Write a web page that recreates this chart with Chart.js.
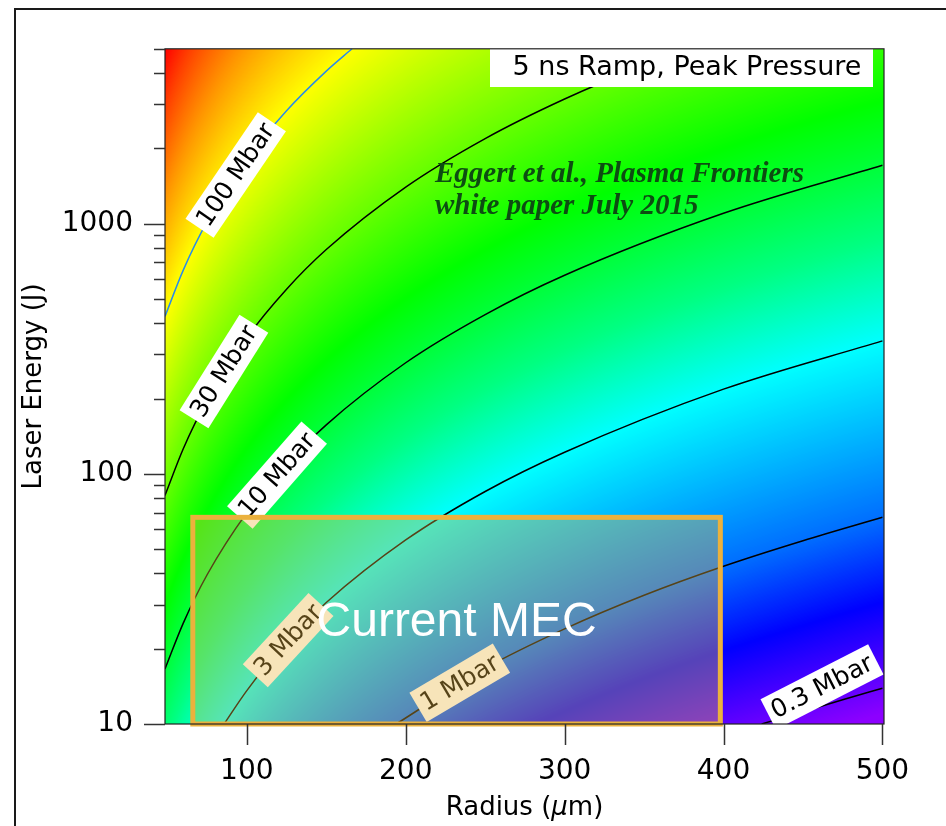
<!DOCTYPE html>
<html>
<head>
<meta charset="utf-8">
<title>5 ns Ramp, Peak Pressure</title>
<script src="https://cdn.jsdelivr.net/npm/chart.js@4.4.1/dist/chart.umd.min.js"></script>
<style>
  html, body { margin: 0; padding: 0; background: #fff; }
  #wrap { position: relative; width: 946px; height: 826px; }
</style>
</head>
<body>
<div id="wrap"><canvas id="pressureChart" width="946" height="826"></canvas></div>
<script>
// iso-pressure levels (Mbar) and the [radius um, energy J] points each line runs through
const levels = [0.3, 1, 3, 10, 30, 100];
const levelLabels = ['0.3 Mbar', '1 Mbar', '3 Mbar', '10 Mbar', '30 Mbar', '100 Mbar'];
const line03 = [[424, 10], [450, 11.2], [475, 12.5], [500, 13.9]];
const line1 = [[194, 10], [250, 16.7], [300, 24], [350, 32.7], [400, 42.7], [450, 54], [500, 67]];
const line3 = [[85.7, 10], [100, 13.6], [125, 21.3], [150, 30.6], [200, 54.4], [250, 85], [300, 122], [400, 218], [500, 340]];
const line10 = [[48.5, 16.6], [60, 25.3], [75, 39.5], [100, 70], [125, 109], [150, 157], [200, 278], [250, 433], [300, 622], [400, 1100], [500, 1712]];
const line30 = [[48.5, 82], [60, 126], [75, 197], [100, 350], [125, 547], [150, 788], [200, 1400], [250, 2188], [300, 3150], [350, 4288], [378.9, 5000]];
const line100 = [[48.5, 426], [60, 652], [75, 1018], [100, 1810], [125, 2828], [150, 4073], [166.2, 5000]];
const contourLines = [line03, line1, line3, line10, line30, line100];

// axis ticks
const xTicks = [100, 200, 300, 400, 500];
const yMajorTicks = [10, 100, 1000];
const yMinorTicks = [20, 30, 40, 50, 60, 70, 80, 90, 200, 300, 400, 500, 600, 700, 800, 900, 2000, 3000, 4000, 5000];

// rainbow colour scale over pressure (Mbar)
const colourStops = [0.25, 0.55, 1, 3, 6, 15, 30, 100, 140, 220, 400, 600];
const colourValues = ['#8c00ff', '#0000ff', '#006eff', '#00ffff', '#00ff82', '#00ff00', '#64ff00', '#ffff00', '#ffd200', '#ff9600', '#ff4000', '#ff0000'];

// current MEC capability window
const mecRadius = [66, 398];
const mecEnergy = [10, 67];

const FONT = '"DejaVu Sans", Verdana, sans-serif';

// energy on a contour at radius r, log-log between its points;
// with extend, the end segments carry on past the first/last point
function energyAt(pts, r, extend) {
  const n = pts.length;
  if (!extend && (r < pts[0][0] || r > pts[n - 1][0])) return null;
  let i = 1;
  while (i < n - 1 && r > pts[i][0]) i++;
  const [r0, e0] = pts[i - 1], [r1, e1] = pts[i];
  const t = (Math.log(r) - Math.log(r0)) / (Math.log(r1) - Math.log(r0));
  return Math.exp(Math.log(e0) + t * (Math.log(e1) - Math.log(e0)));
}

function hexToRgb(h) {
  return [parseInt(h.slice(1, 3), 16), parseInt(h.slice(3, 5), 16), parseInt(h.slice(5, 7), 16)];
}

// lookup table: log10(P) in [-1, 3] -> rgb
const LUT_N = 1024;
const lut = (() => {
  const stopsLog = colourStops.map(Math.log10);
  const rgb = colourValues.map(hexToRgb);
  const out = new Uint8ClampedArray(LUT_N * 3);
  for (let i = 0; i < LUT_N; i++) {
    const lp = -1 + 4 * i / (LUT_N - 1);
    let c;
    if (lp <= stopsLog[0]) c = rgb[0];
    else if (lp >= stopsLog[stopsLog.length - 1]) c = rgb[rgb.length - 1];
    else {
      let k = 0;
      while (lp > stopsLog[k + 1]) k++;
      const t = (lp - stopsLog[k]) / (stopsLog[k + 1] - stopsLog[k]);
      c = rgb[k].map((v, n) => v + t * (rgb[k + 1][n] - v));
    }
    out[i * 3] = c[0]; out[i * 3 + 1] = c[1]; out[i * 3 + 2] = c[2];
  }
  return out;
})();

// log pressure at log energy, bracketed by the contours at this radius
function logPressure(known, le) {
  const n = known.length;
  let k = 0;
  while (k < n - 2 && le > known[k + 1][0]) k++;
  const [e0, p0] = known[k], [e1, p1] = known[k + 1];
  return p0 + (le - e0) * (p1 - p0) / (e1 - e0);
}

const pressureField = {
  id: 'pressureField',
  beforeDatasetsDraw(chart) {
    const {ctx, chartArea: a, scales: {x, y}} = chart;
    const left = Math.round(a.left), top = Math.round(a.top);
    const w = Math.round(a.right) - left, h = Math.round(a.bottom) - top;
    const img = ctx.createImageData(w, h);
    const logE = new Float64Array(h);
    for (let j = 0; j < h; j++) logE[j] = Math.log10(y.getValueForPixel(top + j + 0.5));
    for (let i = 0; i < w; i++) {
      const r = x.getValueForPixel(left + i + 0.5);
      const known = contourLines.map((pts, k) => [Math.log10(energyAt(pts, r, true)), Math.log10(levels[k])]);
      for (let j = 0; j < h; j++) {
        const lp = logPressure(known, logE[j]);
        let idx = Math.round((lp + 1) / 4 * (LUT_N - 1));
        idx = Math.max(0, Math.min(LUT_N - 1, idx));
        const o = (j * w + i) * 4;
        img.data[o] = lut[idx * 3];
        img.data[o + 1] = lut[idx * 3 + 1];
        img.data[o + 2] = lut[idx * 3 + 2];
        img.data[o + 3] = 255;
      }
    }
    ctx.putImageData(img, left, top);
  }
};

// where each contour carries its label (radius along the line), plus nudges
const labelRadius = [462, 234, 126, 119, 85.6, 93];
const labelShift = [-19, 0, 0, 0, 0, 0];
const labelAngle = [-27, null, null, null, null, null];

const annotations = {
  id: 'annotations',
  afterDatasetsDraw(chart) {
    const {ctx, chartArea: a, scales: {x, y}} = chart;

    // contour labels
    ctx.save();
    ctx.beginPath();
    ctx.rect(a.left, a.top, a.right - a.left, a.bottom - a.top);
    ctx.clip();
    ctx.font = '25px ' + FONT;
    ctx.textAlign = 'center';
    ctx.textBaseline = 'middle';
    contourLines.forEach((pts, k) => {
      const r = labelRadius[k];
      const px = x.getPixelForValue(r), py = y.getPixelForValue(energyAt(pts, r));
      let ang;
      if (labelAngle[k] !== null) ang = labelAngle[k] * Math.PI / 180;
      else {
        const ra = Math.max(pts[0][0], r - 4), rb = Math.min(pts[pts.length - 1][0], r + 4);
        const x1 = x.getPixelForValue(ra), y1 = y.getPixelForValue(energyAt(pts, ra));
        const x2 = x.getPixelForValue(rb), y2 = y.getPixelForValue(energyAt(pts, rb));
        ang = Math.atan2(y2 - y1, x2 - x1);
      }
      const tw = ctx.measureText(levelLabels[k]).width + 10, th = 34;
      ctx.save();
      ctx.translate(px, py + labelShift[k]);
      ctx.rotate(ang);
      ctx.fillStyle = '#fff';
      ctx.fillRect(-tw / 2, -th / 2, tw, th);
      ctx.fillStyle = '#000';
      ctx.fillText(levelLabels[k], 0, 1);
      ctx.restore();
    });
    ctx.restore();

    // title box
    ctx.save();
    ctx.fillStyle = '#fff';
    ctx.fillRect(490, 47, 383, 40);
    ctx.fillStyle = '#000';
    ctx.font = '27px ' + FONT;
    ctx.textAlign = 'center';
    ctx.textBaseline = 'middle';
    ctx.fillText('5 ns Ramp, Peak Pressure', 687, 68);

    // citation
    ctx.fillStyle = '#0d4d12';
    ctx.font = 'italic bold 29px "Liberation Serif", "Times New Roman", serif';
    ctx.textAlign = 'left';
    ctx.textBaseline = 'alphabetic';
    ctx.fillText('Eggert et al., Plasma Frontiers', 435, 182);
    ctx.fillText('white paper July 2015', 435, 214);
    ctx.restore();

    // current MEC window
    const bx0 = x.getPixelForValue(mecRadius[0]), bx1 = x.getPixelForValue(mecRadius[1]);
    const by0 = y.getPixelForValue(mecEnergy[1]), by1 = y.getPixelForValue(mecEnergy[0]);
    ctx.save();
    ctx.fillStyle = 'rgba(232, 181, 65, 0.37)';
    ctx.fillRect(bx0, by0, bx1 - bx0, by1 - by0);
    ctx.strokeStyle = '#ebb13d';
    ctx.lineWidth = 5;
    ctx.strokeRect(bx0, by0, bx1 - bx0, by1 - by0);
    ctx.fillStyle = '#fff';
    ctx.font = '48px "Liberation Sans", Arial, sans-serif';
    ctx.textAlign = 'center';
    ctx.textBaseline = 'middle';
    ctx.fillText('Current MEC', (bx0 + bx1) / 2, (by0 + by1) / 2 + 2);
    ctx.restore();
  },
  afterDraw(chart) {
    const {ctx, chartArea: a, scales: {x, y}} = chart;
    ctx.save();
    // plot frame
    ctx.strokeStyle = '#222';
    ctx.lineWidth = 1.2;
    ctx.strokeRect(a.left, a.top, a.right - a.left, a.bottom - a.top);

    // tick marks
    ctx.strokeStyle = '#333';
    ctx.lineWidth = 1.5;
    ctx.beginPath();
    yMajorTicks.forEach(v => {
      const py = Math.round(y.getPixelForValue(v)) + 0.5;
      ctx.moveTo(a.left - 21, py); ctx.lineTo(a.left, py);
    });
    yMinorTicks.forEach(v => {
      const py = Math.round(y.getPixelForValue(v)) + 0.5;
      ctx.moveTo(a.left - 11, py); ctx.lineTo(a.left, py);
    });
    xTicks.forEach(v => {
      const px = Math.round(x.getPixelForValue(v)) + 0.5;
      ctx.moveTo(px, a.bottom); ctx.lineTo(px, a.bottom + 21);
    });
    ctx.stroke();

    // x axis title with italic mu
    const parts = [['Radius (', ''], ['\u03bc', 'italic '], ['m)', '']];
    ctx.fillStyle = '#000';
    ctx.textBaseline = 'middle';
    ctx.textAlign = 'left';
    let total = 0;
    parts.forEach(p => { ctx.font = p[1] + '26px ' + FONT; total += ctx.measureText(p[0]).width; });
    let tx = (a.left + a.right) / 2 - total / 2;
    parts.forEach(p => {
      ctx.font = p[1] + '26px ' + FONT;
      ctx.fillText(p[0], tx, 808);
      tx += ctx.measureText(p[0]).width;
    });

    // outer figure frame
    ctx.strokeStyle = '#1a1a1a';
    ctx.lineWidth = 2;
    ctx.beginPath();
    ctx.moveTo(15, 830); ctx.lineTo(15, 9); ctx.lineTo(950, 9);
    ctx.stroke();
    ctx.restore();
  }
};

const datasets = contourLines.map((pts, i) => ({
  label: levelLabels[i],
  data: pts.map(p => ({x: p[0], y: p[1]})),
  showLine: true,
  borderColor: levels[i] === 100 ? '#2a8ce8' : '#000',
  borderWidth: 1.5,
  pointRadius: 0,
  cubicInterpolationMode: 'monotone',
  fill: false
}));

const tickFont = {family: FONT, size: 28};

new Chart(document.getElementById('pressureChart'), {
  type: 'scatter',
  data: {datasets: datasets},
  options: {
    responsive: false,
    animation: false,
    devicePixelRatio: 1,
    events: [],
    layout: {padding: {top: 42, right: 62, left: 0, bottom: 0}},
    plugins: {legend: {display: false}, tooltip: {enabled: false}},
    scales: {
      x: {
        type: 'linear',
        min: 48.5,
        max: 501,
        afterBuildTicks: s => { s.ticks = xTicks.map(v => ({value: v})); },
        afterFit: s => { s.height = 102; },
        grid: {display: false, drawTicks: false},
        border: {display: false},
        ticks: {padding: 31, font: tickFont, color: '#000', maxRotation: 0, autoSkip: false}
      },
      y: {
        type: 'logarithmic',
        min: 10,
        max: 5000,
        afterBuildTicks: s => { s.ticks = yMajorTicks.map(v => ({value: v})); },
        afterFit: s => { s.width = 165; },
        grid: {display: false, drawTicks: false},
        border: {display: false},
        ticks: {padding: 32, font: tickFont, color: '#000', autoSkip: false, callback: v => String(v)},
        title: {display: true, text: 'Laser Energy (J)', color: '#000', font: {family: FONT, size: 26}, padding: {top: 19, bottom: 0}}
      }
    }
  },
  plugins: [pressureField, annotations]
});
</script>
</body>
</html>
